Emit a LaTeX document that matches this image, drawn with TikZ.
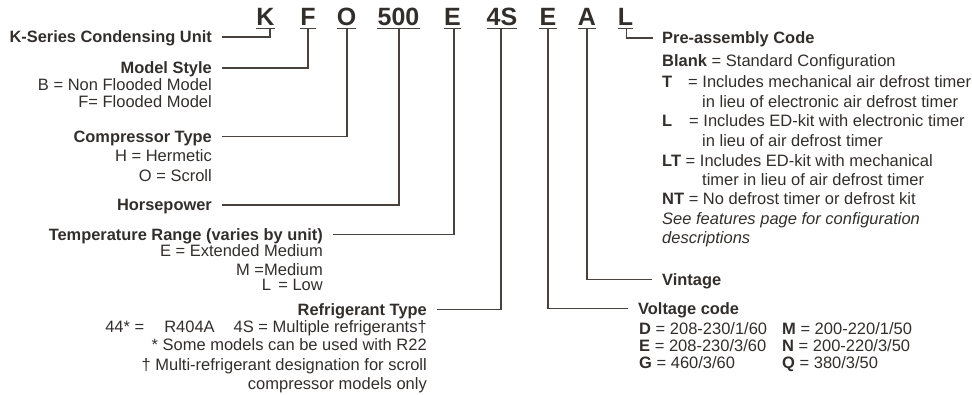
\documentclass[tikz,border=0pt]{standalone}
\usepackage{fontspec}
\setmainfont{Liberation Sans}
\definecolor{txt}{RGB}{50,46,44}
\definecolor{ln}{RGB}{72,66,62}
\begin{document}
\begin{tikzpicture}[x=1pt,y=-1pt,
  codech/.style={font=\fontsize{25}{30}\selectfont\bfseries, inner sep=0pt, anchor=base, text=txt},
  hd/.style={font=\fontsize{16.4}{19}\selectfont\bfseries, inner sep=0pt, text height=11.8pt, text depth=0pt, text=txt},
  tx/.style={font=\fontsize{16.5}{19}\selectfont, inner sep=0pt, text=txt},
  conn/.style={draw=ln, line width=1.4pt},
  ul/.style={draw=ln, line width=1.3pt}]
\useasboundingbox (0,0) rectangle (972,394);

% code characters
\node[codech] (cK) at (265.5,25) {K};
\node[codech] (cF) at (308,25) {F};
\node[codech] (cO) at (346.5,25) {O};
\node[codech] (c500) at (398.5,25) {500};
\node[codech] (cE) at (452.5,25) {E};
\node[codech] (c4S) at (502,25) {4S};
\node[codech] (cE2) at (548,25) {E};
\node[codech] (cA) at (587,25) {A};
\node[codech] (cL) at (625.5,25) {L};
\foreach \n in {cK,cF,cO,c500,cE,c4S,cE2,cA,cL}
  \draw[ul] ([yshift=-3.3pt]\n.base west) -- ([yshift=-3.3pt]\n.base east);

% connector start points on the underlines
\coordinate (uK) at ([xshift=4.5pt,yshift=-3.3pt]cK.base);
\coordinate (uF) at ([yshift=-3.3pt]cF.base);
\coordinate (uO) at ([xshift=0.5pt,yshift=-3.3pt]cO.base);
\coordinate (u500) at ([xshift=0.5pt,yshift=-3.3pt]c500.base);
\coordinate (uE) at ([xshift=1.5pt,yshift=-3.3pt]cE.base);
\coordinate (u4S) at ([xshift=-1pt,yshift=-3.3pt]c4S.base);
\coordinate (uE2) at ([yshift=-3.3pt]cE2.base);
\coordinate (uA) at ([yshift=-3.3pt]cA.base);
\coordinate (uL) at ([xshift=1pt,yshift=-3.3pt]cL.base);

% left headings
\node[hd, anchor=east] (hK) at (212,37) {K-Series Condensing Unit};
\node[hd, anchor=east] (hModel) at (212,68) {Model Style};
\node[hd, anchor=east] (hComp) at (212,136.5) {Compressor Type};
\node[hd, anchor=east] (hHP) at (212,205) {Horsepower};
\node[hd, anchor=east] (hTemp) at (323,234.5) {Temperature Range (varies by unit)};
\node[hd, anchor=east] (hRef) at (427,309.5) {Refrigerant Type};
% right headings
\node[hd, anchor=west] (hPre) at (662,38) {Pre-assembly Code};
\node[hd, anchor=west] (hVin) at (662,279.5) {Vintage};
\node[hd, anchor=west] (hVolt) at (638,308.5) {Voltage code};

% connectors
\draw[conn] (uK) |- ([xshift=10pt]hK.east);
\draw[conn] (uF) |- ([xshift=10pt]hModel.east);
\draw[conn] (uO) |- ([xshift=10pt]hComp.east);
\draw[conn] (u500) |- ([xshift=10pt]hHP.east);
\draw[conn] (uE) |- ([xshift=10pt]hTemp.east);
\draw[conn] (u4S) |- ([xshift=10pt]hRef.east);
\draw[conn] (uE2) |- ([xshift=-10pt]hVolt.west);
\draw[conn] (uA) |- ([xshift=-10pt]hVin.west);
\draw[conn] (uL) |- ([xshift=-9pt]hPre.west);

% left descriptions
\node[tx, anchor=base east] (dB) at (212,90.7) {B = Non Flooded Model};
\node[tx, anchor=base east] (dF) at (212,107) {F= Flooded Model};
\node[tx, anchor=base east] (dH) at (212,161) {H = Hermetic};
\node[tx, anchor=base east] (dO) at (212,181) {O = Scroll};
\node[tx, anchor=base east] (dTE) at (323,256.7) {E = Extended Medium};
\node[tx, anchor=base east] (dTM) at (323,275) {M =Medium};
\node[tx, anchor=base east] (dTL) at (323,290.7) {L\, = Low};
\node[tx, anchor=base east] (dR1) at (427,332.7) {44* =\hspace{20pt}R404A\hspace{19pt}4S = Multiple refrigerants†};
\node[tx, anchor=base east] (dR2) at (427,350) {* Some models can be used with R22};
\node[tx, anchor=base east] (dR3) at (427,370) {† Multi-refrigerant designation for scroll};
\node[tx, anchor=base east] (dR4) at (427,389.3) {compressor models only};

% right descriptions
\node[tx, anchor=base west] (pBlank) at (662,66.7) {\textbf{Blank} = Standard Configuration};
\node[tx, anchor=base west] (pT) at (662,87.3) {\textbf{T}};
\node[tx, anchor=base west] (pT1) at (688,87.3) {= Includes mechanical air defrost timer};
\node[tx, anchor=base west] (pT2) at (702,107.3) {in lieu of electronic air defrost timer};
\node[tx, anchor=base west] (pL) at (662,126) {\textbf{L}};
\node[tx, anchor=base west] (pL1) at (689,126) {= Includes ED-kit with electronic timer};
\node[tx, anchor=base west] (pL2) at (702,146.7) {in lieu of air defrost timer};
\node[tx, anchor=base west] (pLT) at (662,166.7) {\textbf{LT} = Includes ED-kit with mechanical};
\node[tx, anchor=base west] (pLT2) at (702,185) {timer in lieu of air defrost timer};
\node[tx, anchor=base west] (pNT) at (662,204) {\textbf{NT} = No defrost timer or defrost kit};
\node[tx, anchor=base west] (pSee) at (662,224) {\itshape See features page for configuration};
\node[tx, anchor=base west] (pSee2) at (662,243.3) {\itshape descriptions};

% voltage table
\node[tx, anchor=base west] (vD) at (639,334) {\textbf{D} = 208-230/1/60};
\node[tx, anchor=base west] (vM) at (782,334) {\textbf{M} = 200-220/1/50};
\node[tx, anchor=base west] (vE) at (639,351.7) {\textbf{E} = 208-230/3/60};
\node[tx, anchor=base west] (vN) at (782,351.7) {\textbf{N} = 200-220/3/50};
\node[tx, anchor=base west] (vG) at (639,368.3) {\textbf{G} = 460/3/60};
\node[tx, anchor=base west] (vQ) at (782,368.3) {\textbf{Q} = 380/3/50};
\end{tikzpicture}
\end{document}
